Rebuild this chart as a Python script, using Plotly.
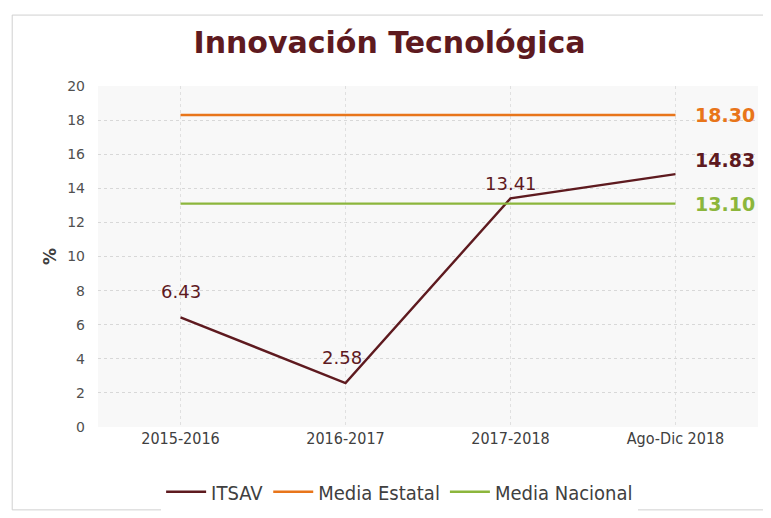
import plotly.graph_objects as go

categories = ["2015-2016", "2016-2017", "2017-2018", "Ago-Dic 2018"]
itsav = [6.43, 2.58, 13.41, 14.83]
media_estatal = [18.30, 18.30, 18.30, 18.30]
media_nacional = [13.10, 13.10, 13.10, 13.10]

c_itsav = "#5E1A1F"
c_est = "#E8751A"
c_nac = "#8CB63C"

fig = go.Figure()
fig.add_trace(go.Scatter(x=categories, y=itsav, name="ITSAV", mode="lines",
                         line=dict(color=c_itsav, width=2.4)))
fig.add_trace(go.Scatter(x=categories, y=media_estatal, name="Media Estatal", mode="lines",
                         line=dict(color=c_est, width=2.4)))
fig.add_trace(go.Scatter(x=categories, y=media_nacional, name="Media Nacional", mode="lines",
                         line=dict(color=c_nac, width=2.4)))

ann = []
shifts = [(0, 26), (-4, 26), (0, 15), (49, 14)]
for i, (c, v) in enumerate(zip(categories, itsav)):
    dx, dy = shifts[i]
    last = i == len(categories) - 1
    ann.append(dict(x=c, y=v, text=("<b>%.2f</b>" % v) if last else "%.2f" % v,
                    showarrow=False, xshift=dx, yshift=dy,
                    font=dict(family="DejaVu Sans", size=19 if last else 18, color=c_itsav)))
ann.append(dict(x=categories[-1], y=media_estatal[-1], text="<b>%.2f</b>" % media_estatal[-1],
                showarrow=False, xshift=49, yshift=0,
                font=dict(family="DejaVu Sans", size=19, color=c_est)))
ann.append(dict(x=categories[-1], y=media_nacional[-1], text="<b>%.2f</b>" % media_nacional[-1],
                showarrow=False, xshift=49, yshift=0,
                font=dict(family="DejaVu Sans", size=19, color=c_nac)))

fig.update_layout(
    width=763, height=510,
    margin=dict(l=90, r=13, t=78, b=91, autoexpand=False),
    paper_bgcolor="white",
    plot_bgcolor="#f8f8f8",
    title=dict(text="<b>Innovación Tecnológica</b>", x=0.5, xanchor="center",
               y=0.933, yanchor="middle",
               font=dict(family="DejaVu Sans", size=30, color="#5E1A1F")),
    xaxis=dict(range=[-0.5, 3.5], showgrid=True, gridcolor="#e0e0e0", griddash="dot",
               tickfont=dict(family="Liberation Sans Narrow, DejaVu Sans Condensed", size=16, color="#404040"),
               showline=False, zeroline=False, ticks="", automargin=False),
    yaxis=dict(range=[0, 20], dtick=2, showgrid=True, gridcolor="#d8d8d8", griddash="dot",
               tickfont=dict(family="DejaVu Sans", size=14, color="#505050"),
               ticklabelstandoff=12,
               title=dict(text="<b>%</b>", font=dict(family="DejaVu Sans", size=17, color="#404040"), standoff=6),
               zeroline=False, ticks="", showline=False, automargin=False),
    legend=dict(orientation="h", x=0.457, xanchor="center", y=-0.19, yanchor="middle",
                font=dict(family="Liberation Sans Narrow, DejaVu Sans Condensed", size=20, color="#404040"),
                itemwidth=40, traceorder="normal"),
    annotations=ann,
    shapes=[dict(type="rect", xref="paper", yref="paper", x0=-0.13, x1=1.011, y0=-0.243, y1=1.208,
                 line=dict(color="#d0d0d0", width=1), fillcolor="rgba(0,0,0,0)", layer="below")],
)

fig.write_html("out.html")
